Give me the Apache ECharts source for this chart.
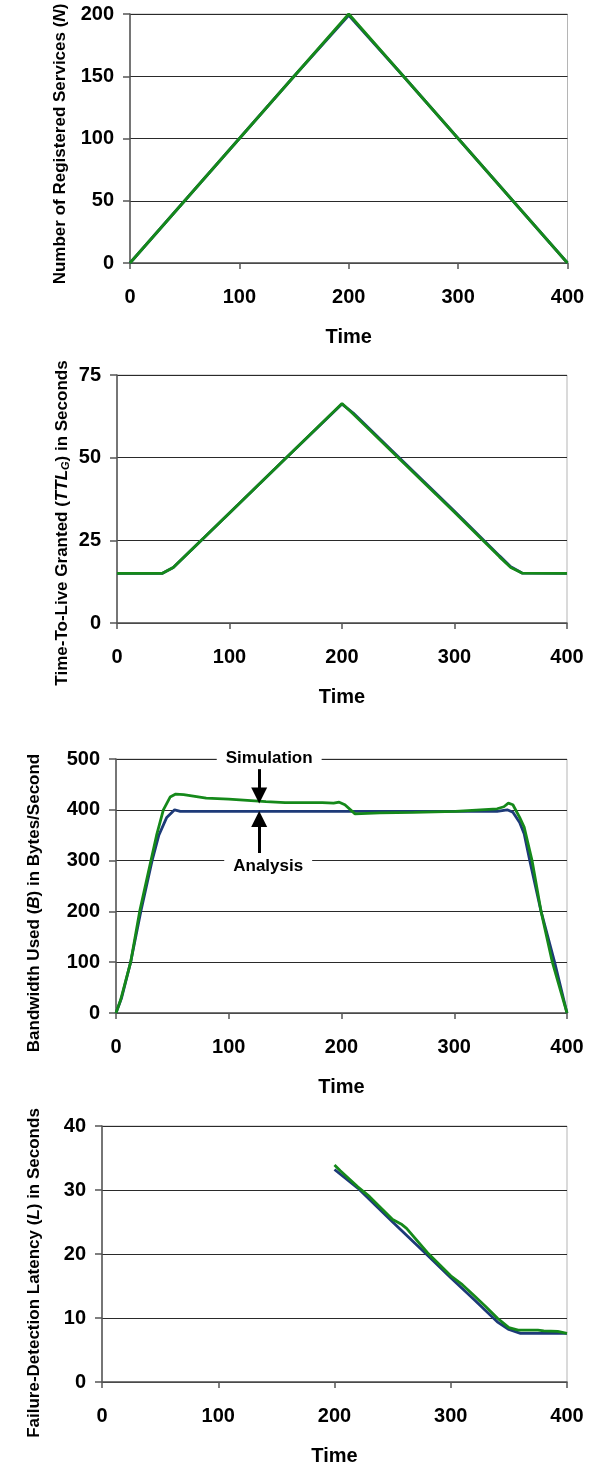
<!DOCTYPE html>
<html>
<head>
<meta charset="utf-8">
<script src="https://cdn.jsdelivr.net/npm/echarts@6/dist/echarts.min.js"></script>
<style>
html,body{margin:0;padding:0;background:#fff;}
#chart{width:595px;height:1468px;}
</style>
</head>
<body>
<div id="chart"></div>
<script>
// ---------- data ----------
const timeTicks = [0, 100, 200, 300, 400];

// Chart 1: Number of Registered Services (N)
const nTime       = [0, 50, 100, 150, 200, 250, 300, 350, 400];
const nAnalysis   = [0, 50, 100, 150, 199, 150, 100, 50, 0];
const nSimulation = [0, 50, 100, 150, 200, 150, 100, 50, 0];

// Chart 2: Time-To-Live Granted (TTL_G)
const ttlTime       = [0, 40, 50, 100, 150, 200, 210, 250, 300, 340, 350, 360, 400];
const ttlAnalysis   = [15, 15, 16.8, 33.3, 49.8, 66.2, 63.5, 50.3, 33.8, 20.3, 17.0, 15.1, 15];
const ttlSimulation = [15, 15, 16.8, 33.3, 49.8, 66.4, 63.2, 50.0, 33.5, 20.0, 16.8, 15.1, 15];

// Chart 3: Bandwidth Used (B)
const bwTimeA     = [0, 5, 13, 22, 32, 38, 45, 52, 57, 100, 200, 300, 338, 347, 352, 358, 362, 367, 377, 389, 400];
const bwAnalysis  = [0, 30, 100, 200, 300, 350, 385, 400, 397, 397, 397, 397, 397, 400, 395, 375, 353, 300, 200, 100, 0];
const bwTimeS     = [0, 4, 13, 21, 31, 36, 42, 48, 53, 60, 80, 100, 133, 150, 183, 193, 198, 203, 212, 234, 264, 301, 338, 344, 348, 352, 358, 362, 369, 377, 387, 400];
const bwSimulation= [0, 25, 100, 200, 300, 350, 400, 425, 431, 430, 423, 421, 416, 414, 414, 413, 415, 410, 392, 394, 395, 397, 402, 406, 413, 410, 385, 366, 300, 200, 100, 0];

// Chart 4: Failure-Detection Latency (L)
const latTimeA     = [200, 220, 250, 280, 300, 320, 340, 350, 360, 400];
const latAnalysis  = [33.2, 30.3, 25.0, 19.8, 16.3, 12.9, 9.4, 8.2, 7.6, 7.6];
const latTimeS     = [200, 205, 220, 230, 250, 258, 262, 280, 300, 310, 320, 330, 340, 350, 358, 375, 380, 392, 400];
const latSimulation= [33.9, 33.0, 30.5, 29.0, 25.4, 24.6, 24.0, 20.2, 16.6, 15.2, 13.5, 11.8, 10.0, 8.5, 8.1, 8.1, 8.0, 7.9, 7.6];

// axis settings
const yMax  = [200, 75, 500, 40];
const yStep = [50, 25, 100, 10];

// annotations (chart 3), in data coordinates
const simArrow = {x: 127, from: 480, to: 428, text: 'Simulation'};
const anaArrow = {x: 127, from: 315, to: 382, text: 'Analysis'};

// ---------- layout ----------
const FONT = "'Liberation Sans', Arial, sans-serif";
const BLUE = '#1d3a78';
const GREEN = '#15891a';
const grids = [
  {left: 130, top: 14,   width: 437.5, height: 249},
  {left: 117, top: 375,  width: 450,   height: 248},
  {left: 116, top: 759,  width: 451,   height: 254},
  {left: 102, top: 1126, width: 465,   height: 256}
];

function zip(xs, ys){ return xs.map((x,i)=>[x, ys[i]]); }

const xAxes = grids.map((g,i)=>({
  gridIndex: i, type: 'value', min: 0, max: 400, interval: 100,
  name: 'Time', nameLocation: 'middle', nameGap: 64,
  nameTextStyle: {fontFamily: FONT, fontWeight: 'bold', fontSize: 20, color: '#000'},
  axisLine: {lineStyle: {color: '#555', width: 1.5}},
  axisTick: {show: true, length: 6, lineStyle: {color: '#555', width: 1.5}},
  axisLabel: {margin: 24, fontFamily: FONT, fontWeight: 'bold', fontSize: 20, color: '#000'},
  splitLine: {show: false}
}));

const yAxes = grids.map((g,i)=>({
  gridIndex: i, type: 'value', min: 0, max: yMax[i], interval: yStep[i],
  axisLine: {show: true, lineStyle: {color: '#555', width: 1.5}},
  axisTick: {show: true, length: 7, lineStyle: {color: '#555', width: 1.5}},
  axisLabel: {margin: 16, fontFamily: FONT, fontWeight: 'bold', fontSize: 20, color: '#000'},
  splitLine: {show: true, lineStyle: {color: '#2a2a2a', width: 1}}
}));

function line(name, idx, data, color, extra){
  return Object.assign({
    name, type: 'line', xAxisIndex: idx, yAxisIndex: idx, data,
    showSymbol: false, symbol: 'none',
    lineStyle: {color, width: 2.8}, itemStyle: {color}
  }, extra || {});
}

const annLabel = (text, dx, dy) => ({
  show: true, position: 'start', distance: 4, formatter: text,
  fontFamily: FONT, fontWeight: 'bold', fontSize: 17, color: '#000',
  backgroundColor: '#fff', padding: [1, 9, 1, 9], offset: [dx, dy]
});

const arrowMark = (a, dx, dy) => ({
  silent: true, symbol: ['none', 'triangle'], symbolSize: 16,
  lineStyle: {color: '#000', width: 3, type: 'solid'},
  itemStyle: {color: '#000'},
  label: annLabel(a.text, dx, dy),
  data: [[{coord: [a.x, a.from]}, {coord: [a.x, a.to]}]]
});

const series = [
  line('Analysis', 0, zip(nTime, nAnalysis), BLUE),
  line('Simulation', 0, zip(nTime, nSimulation), GREEN),
  line('Analysis', 1, zip(ttlTime, ttlAnalysis), BLUE),
  line('Simulation', 1, zip(ttlTime, ttlSimulation), GREEN),
  line('Analysis', 2, zip(bwTimeA, bwAnalysis), BLUE, {markLine: arrowMark(anaArrow, 9, 0)}),
  line('Simulation', 2, zip(bwTimeS, bwSimulation), GREEN, {markLine: arrowMark(simArrow, 10, 3)}),
  line('Analysis', 3, zip(latTimeA, latAnalysis), BLUE),
  line('Simulation', 3, zip(latTimeS, latSimulation), GREEN)
];

// rotated y-axis titles
const yTitles = [
  {x: 60, y: 144, text: 'Number of Registered Services ({i|N})'},
  {x: 62, y: 523, text: 'Time-To-Live Granted ({i|TTL}{sub|G}) in Seconds'},
  {x: 34, y: 903, text: 'Bandwidth Used ({i|B}) in Bytes/Second'},
  {x: 34, y: 1273, text: 'Failure-Detection Latency ({i|L}) in Seconds'}
];
const titleStyle = {fontFamily: FONT, fontWeight: 'bold', fontSize: 17, fill: '#000'};

const graphic = yTitles.map(t => ({
  type: 'text', x: t.x, y: t.y, rotation: Math.PI / 2,
  style: Object.assign({}, titleStyle, {
    text: t.text, align: 'center', verticalAlign: 'middle',
    rich: {
      i: {fontFamily: FONT, fontWeight: 'bold', fontStyle: 'italic', fontSize: 17, fill: '#000'},
      sub: {fontFamily: FONT, fontWeight: 'bold', fontStyle: 'italic', fontSize: 11, fill: '#000', verticalAlign: 'bottom', padding: [8, 0, 0, 0]}
    }
  })
}));

const option = {
  animation: false,
  backgroundColor: '#fff',
  grid: grids.map(g => Object.assign({show: true, borderColor: '#b5b5b5', borderWidth: 1, containLabel: false}, g)),
  xAxis: xAxes,
  yAxis: yAxes,
  series,
  graphic
};

const chart = echarts.init(document.getElementById('chart'), null, {renderer: 'canvas'});
chart.setOption(option);
</script>
</body>
</html>
